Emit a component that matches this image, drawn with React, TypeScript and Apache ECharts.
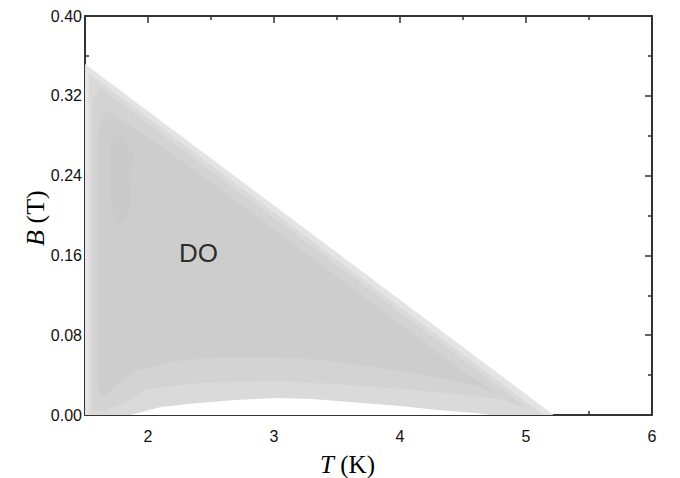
import React, { useEffect, useRef } from "react";
import * as echarts from "echarts";

// Axis ticks
const T_MAJOR = [2, 3, 4, 5, 6];
const T_MINOR = [2.5, 3.5, 4.5, 5.5];
const B_MIN = 0;
const B_MAX = 0.4;
const B_STEP = 0.08;

// Phase-diagram regions, as [T (K), B (T)] boundary points
const outerRegion = [[1.5, 0.352], [5.22, 0.0], [1.5, 0.0]];
const midRegion = [[1.53, 0.343], [1.6, 0.336], [5.14, 0.0], [1.53, 0.0]];
const innerBandRegion = [
  [1.56, 0.315], [1.62, 0.328], [2.5, 0.244], [3.5, 0.15], [4.5, 0.055], [5.02, 0.006],
  [4.8, 0.016], [4.2, 0.024], [3.6, 0.03], [3.0, 0.034], [2.4, 0.032], [2.0, 0.026],
  [1.8, 0.012], [1.65, 0.004], [1.56, 0.004],
];
const innerRegion = [
  [1.6, 0.285], [1.66, 0.305], [2.0, 0.279], [2.5, 0.233], [3.0, 0.186], [3.5, 0.139],
  [4.0, 0.091], [4.5, 0.044], [4.78, 0.02], [4.6, 0.03], [4.2, 0.04], [3.8, 0.048],
  [3.4, 0.055], [3.0, 0.058], [2.6, 0.058], [2.2, 0.054], [1.9, 0.044], [1.75, 0.03],
  [1.64, 0.018], [1.6, 0.03],
];
const streakRegion = [
  [1.7, 0.275], [1.78, 0.283], [1.88, 0.262], [1.86, 0.205], [1.76, 0.19], [1.7, 0.215],
];
const gapRegion = [
  [1.86, 0.0], [1.95, 0.003], [2.1, 0.008], [2.4, 0.012], [2.7, 0.015], [3.0, 0.017],
  [3.3, 0.016], [3.6, 0.013], [4.0, 0.009], [4.3, 0.005], [4.6, 0.002], [4.72, 0.0],
];

// Phase label
const phaseLabels = [{ name: "DO", value: [2.4, 0.162] }];

const regions = [
  { pts: outerRegion, color: "#e4e4e4" },
  { pts: midRegion, color: "#dadada" },
  { pts: innerBandRegion, color: "#d3d3d3" },
  { pts: innerRegion, color: "#cdcdcd" },
  { pts: streakRegion, color: "#cacaca" },
  { pts: gapRegion, color: "#ffffff" },
];

const AXIS_COLOR = "#333333";
const LABEL_FONT = "'Liberation Sans', Arial, sans-serif";
const SERIF = "'Liberation Serif', 'Times New Roman', serif";

export default function App() {
  const ref = useRef<HTMLDivElement>(null);

  useEffect(() => {
    if (!ref.current) return;
    const chart = echarts.init(ref.current, null, { renderer: "svg" });
    const lineStyle = { color: AXIS_COLOR, width: 2 };
    const tickStyle = { color: AXIS_COLOR, width: 1.5 };
    const baseX = {
      type: "value" as const,
      min: 1.5,
      max: 6,
      splitLine: { show: false },
    };
    const baseY = {
      type: "value" as const,
      min: B_MIN,
      max: B_MAX,
      interval: B_STEP,
      splitLine: { show: false },
    };
    chart.setOption({
      animation: false,
      backgroundColor: "#ffffff",
      grid: { left: 85, right: 28, top: 16, bottom: 63 },
      xAxis: [
        {
          ...baseX,
          position: "bottom",
          axisLine: { show: true, onZero: false, lineStyle },
          axisTick: { show: true, inside: true, length: 7, customValues: T_MAJOR, lineStyle: tickStyle },
          axisLabel: {
            show: true,
            customValues: T_MAJOR,
            margin: 13,
            color: "#111",
            fontSize: 16,
            fontFamily: LABEL_FONT,
            formatter: (v: number) => String(Math.round(v)),
          },
        },
        {
          ...baseX,
          position: "bottom",
          axisLine: { show: false, onZero: false },
          axisTick: { show: true, inside: true, length: 4, customValues: T_MINOR, lineStyle: tickStyle },
          axisLabel: { show: false },
        },
        {
          ...baseX,
          position: "top",
          axisLine: { show: true, onZero: false, lineStyle },
          axisTick: { show: true, inside: true, length: 7, customValues: T_MAJOR, lineStyle: tickStyle },
          axisLabel: { show: false },
        },
        {
          ...baseX,
          position: "top",
          axisLine: { show: false, onZero: false },
          axisTick: { show: true, inside: true, length: 4, customValues: T_MINOR, lineStyle: tickStyle },
          axisLabel: { show: false },
        },
      ],
      yAxis: [
        {
          ...baseY,
          position: "left",
          axisLine: { show: true, onZero: false, lineStyle },
          axisTick: { show: true, inside: true, length: 7, lineStyle: tickStyle },
          minorTick: { show: true, splitNumber: 2, length: 4, lineStyle: tickStyle },
          axisLabel: {
            show: true,
            margin: 3,
            color: "#111",
            fontSize: 16,
            fontFamily: LABEL_FONT,
            formatter: (v: number) => v.toFixed(2),
          },
        },
        {
          ...baseY,
          position: "right",
          axisLine: { show: true, onZero: false, lineStyle },
          axisTick: { show: true, inside: true, length: 7, lineStyle: tickStyle },
          minorTick: { show: true, splitNumber: 2, length: 4, lineStyle: tickStyle },
          axisLabel: { show: false },
        },
      ],
      series: [
        ...regions.map((r) => ({
          type: "custom",
          xAxisIndex: 0,
          yAxisIndex: 0,
          silent: true,
          clip: true,
          z: 1,
          data: [r.pts[0]],
          renderItem: (_params: any, api: any) => ({
            type: "polygon",
            shape: { points: r.pts.map((p) => api.coord(p)) },
            style: { fill: r.color, stroke: null },
          }),
        })),
        {
          type: "scatter",
          xAxisIndex: 0,
          yAxisIndex: 0,
          symbolSize: 0,
          silent: true,
          z: 3,
          data: phaseLabels,
          label: {
            show: true,
            position: "inside",
            formatter: "{b}",
            color: "#000",
            fontSize: 26,
            fontFamily: LABEL_FONT,
          },
        },
      ],
      graphic: [
        {
          type: "text",
          x: 35,
          y: 246,
          rotation: Math.PI / 2,
          style: {
            text: "B",
            align: "left",
            verticalAlign: "middle",
            fill: "#000",
            font: `italic 26px ${SERIF}`,
          },
        },
        {
          type: "text",
          x: 35,
          y: 230,
          rotation: Math.PI / 2,
          style: {
            text: " (T)",
            align: "left",
            verticalAlign: "middle",
            fill: "#000",
            font: `26px ${SERIF}`,
          },
        },
        {
          type: "text",
          x: 320,
          y: 464,
          style: {
            text: "T",
            align: "left",
            verticalAlign: "middle",
            fill: "#000",
            font: `italic 25px ${SERIF}`,
          },
        },
        {
          type: "text",
          x: 334,
          y: 464,
          style: {
            text: " (K)",
            align: "left",
            verticalAlign: "middle",
            fill: "#000",
            font: `25px ${SERIF}`,
          },
        },
      ],
    });
    return () => chart.dispose();
  }, []);

  return <div ref={ref} style={{ width: 680, height: 478, position: "absolute", left: 0, top: 0 }} />;
}
